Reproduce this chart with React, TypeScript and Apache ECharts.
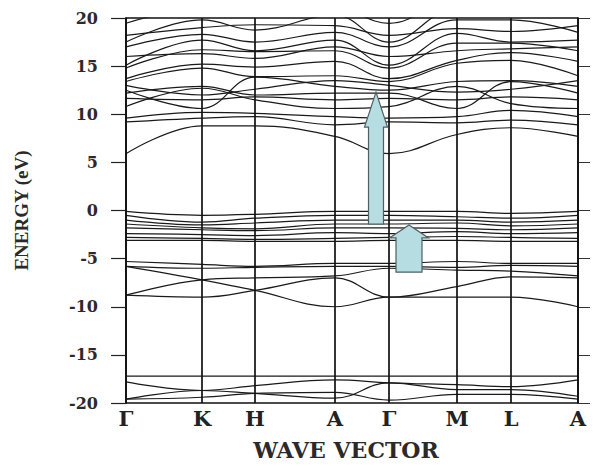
import React, { useEffect, useRef } from "react";
import * as echarts from "echarts";

// High-symmetry points along the wave-vector path (path distance, arbitrary units)
const kPointNames = ["Γ", "K", "H", "A", "Γ", "M", "L", "A"];
const kPointPos = [0, 76, 129, 209, 263, 331, 385, 452];

// Energies (eV) of each band at the high-symmetry points above
const conductionBands: number[][] = [
  [5.9, 8.8, 8.8, 7.7, 5.9, 7.9, 8.6, 7.7],
  [9.2, 9.6, 9.75, 8.9, 9.2, 9.1, 9.4, 8.9],
  [9.6, 10.2, 10.1, 9.75, 9.6, 9.75, 10.4, 9.75],
  [10.8, 12.7, 11.5, 10.6, 10.8, 12.9, 11.1, 10.6],
  [11.65, 11.5, 11.8, 11.5, 11.65, 11.5, 11.8, 11.5],
  [12.2, 12.9, 12.0, 12.2, 12.2, 10.6, 13.4, 12.2],
  [12.5, 10.6, 13.85, 12.9, 12.5, 13.4, 13.5, 12.9],
  [13.0, 12.0, 12.6, 13.5, 13.0, 12.3, 12.6, 13.5],
  [13.4, 14.8, 13.9, 14.0, 13.4, 15.3, 15.6, 14.0],
  [13.7, 15.2, 14.9, 15.5, 13.7, 15.6, 16.4, 15.5],
  [14.8, 16.7, 16.5, 16.6, 14.8, 17.4, 17.4, 16.6],
  [15.1, 17.7, 16.6, 17.7, 15.1, 18.4, 17.5, 17.7],
  [16.0, 16.3, 15.8, 17.0, 16.0, 16.6, 16.8, 17.0],
  [17.0, 18.3, 17.5, 18.5, 17.0, 19.8, 19.8, 18.5],
  [17.5, 19.8, 18.75, 20.3, 17.5, 21, 21, 20.3],
  [18.2, 19.0, 19.3, 19.2, 18.2, 18.9, 18.6, 19.2],
  [19.45, 21, 20.5, 21, 19.45, 22, 22, 21],
];

const upperValenceBands: number[][] = [
  [-0.1, -0.5, -0.4, -0.1, -0.1, -0.1, -0.3, -0.1],
  [-0.5, -1.2, -0.8, -0.5, -0.5, -0.65, -0.8, -0.5],
  [-1.0, -1.5, -1.3, -1.0, -1.0, -1.0, -1.2, -1.0],
  [-1.4, -1.8, -1.9, -1.4, -1.4, -1.3, -1.6, -1.4],
  [-1.8, -2.0, -2.1, -1.8, -1.8, -1.85, -2.0, -1.8],
  [-2.4, -2.5, -2.6, -2.3, -2.4, -2.2, -2.4, -2.3],
  [-2.8, -2.9, -3.0, -2.9, -2.8, -2.7, -2.8, -2.9],
  [-3.1, -3.1, -3.2, -3.2, -3.1, -3.1, -3.2, -3.2],
];

const lowerValenceBands: number[][] = [
  [-5.3, -5.6, -5.8, -5.5, -5.5, -5.3, -5.5, -5.5],
  [-5.8, -6.0, -5.9, -5.8, -5.8, -5.9, -5.7, -5.8],
  [-5.8, -7.2, -8.3, -10.0, -9.0, -9.0, -9.0, -10.0],
  [-8.8, -9.0, -8.3, -7.0, -9.0, -7.9, -6.9, -7.0],
  [-8.8, -7.2, -7.0, -6.8, -6.0, -6.2, -6.3, -6.8],
];

const deepBands: number[][] = [
  [-17.2, -17.2, -17.2, -17.2, -17.2, -17.2, -17.2, -17.2],
  [-17.8, -18.7, -18.2, -17.6, -17.9, -18.1, -18.3, -17.6],
  [-19.6, -18.7, -19.0, -19.5, -17.9, -18.6, -18.6, -19.3],
  [-19.6, -19.4, -19.0, -18.9, -19.7, -19.1, -19.1, -19.6],
];

const energyMin = -20;
const energyMax = 20;
const energyStep = 5;

// Transition arrows: [k position, start energy, tip energy]
const arrowTransitions = [
  [250, -1.4, 12.3],
  [283, -6.4, -1.5],
];

const arrowShapes = [
  { shaft: 15, head: 23, headLen: 35 },
  { shaft: 26, head: 39, headLen: 13 },
];

const SERIF = "'DejaVu Serif', 'Liberation Serif', serif";

export default function App() {
  const ref = useRef<HTMLDivElement>(null);

  useEffect(() => {
    document.body.style.margin = "0";
    if (!ref.current) return;
    const chart = echarts.init(ref.current, undefined, { renderer: "svg" });

    const allBands = [
      ...conductionBands,
      ...upperValenceBands,
      ...lowerValenceBands,
      ...deepBands,
    ];

    const series: any[] = allBands.map((band) => ({
      type: "line",
      data: band.map((e, i) => [kPointPos[i], e]),
      showSymbol: false,
      smooth: 0.4,
      silent: true,
      clip: true,
      lineStyle: { color: "#1a1a1a", width: 1.2 },
      z: 2,
    }));

    series.push({
      type: "line",
      data: [],
      silent: true,
      markLine: {
        silent: true,
        symbol: "none",
        animation: false,
        lineStyle: { color: "#111", width: 1.7, type: "solid" },
        label: {
          show: true,
          position: "start",
          distance: 5,
          formatter: (p: any) => p.name,
          fontFamily: SERIF,
          fontWeight: "bold",
          fontSize: 21,
          color: "#222",
        },
        data: kPointPos.map((k, i) => ({ xAxis: k, name: kPointNames[i] })),
      },
      z: 3,
    });

    chart.setOption({
      animation: false,
      backgroundColor: "#ffffff",
      grid: { left: 126, right: 19, top: 18, bottom: 63, outerBoundsMode: "none" },
      xAxis: [
        {
          type: "value",
          min: kPointPos[0],
          max: kPointPos[kPointPos.length - 1],
          position: "bottom",
          axisLine: { show: true, onZero: false, lineStyle: { color: "#111", width: 1.5 } },
          axisTick: { show: false },
          axisLabel: { show: false },
          splitLine: { show: false },
          name: "WAVE VECTOR",
          nameLocation: "middle",
          nameGap: 36,
          nameTextStyle: {
            fontFamily: SERIF,
            fontWeight: "bold",
            fontSize: 22,
            color: "#2a2a2a",
            padding: [0, 12, 0, 0],
          },
        },
        {
          type: "value",
          min: kPointPos[0],
          max: kPointPos[kPointPos.length - 1],
          position: "top",
          axisLine: { show: true, onZero: false, lineStyle: { color: "#111", width: 1.5 } },
          axisTick: { show: false },
          axisLabel: { show: false },
          splitLine: { show: false },
        },
      ],
      yAxis: [
        {
          type: "value",
          min: energyMin,
          max: energyMax,
          interval: energyStep,
          position: "left",
          axisLine: { show: true, onZero: false, lineStyle: { color: "#111", width: 1.7 } },
          axisTick: { show: true, length: 15, lineStyle: { color: "#222", width: 1.2 } },
          axisLabel: {
            margin: 28,
            fontFamily: SERIF,
            fontWeight: "bold",
            fontSize: 16,
            color: "#2a2a2a",
            formatter: (v: number) => String(v),
          },
          splitLine: { show: false },
          name: "ENERGY (eV)",
          nameLocation: "middle",
          nameGap: 95,
          nameRotate: 90,
          nameTextStyle: {
            fontFamily: "'Liberation Serif', serif",
            fontWeight: "bold",
            fontSize: 19,
            color: "#2a2a2a",
          },
        },
        {
          type: "value",
          min: energyMin,
          max: energyMax,
          interval: energyStep,
          position: "right",
          axisLine: { show: true, onZero: false, lineStyle: { color: "#111", width: 1.7 } },
          axisTick: { show: true, length: 12, lineStyle: { color: "#333", width: 1 } },
          axisLabel: { show: false },
          splitLine: { show: false },
        },
      ],
      series,
    });

    const graphics = arrowTransitions.map((a, i) => {
      const [k, e0, e1] = a;
      const s = arrowShapes[i];
      const base = chart.convertToPixel({ gridIndex: 0 }, [k, e0]) as number[];
      const tip = chart.convertToPixel({ gridIndex: 0 }, [k, e1]) as number[];
      const cx = base[0];
      const hb = tip[1] + s.headLen;
      return {
        type: "polygon",
        z: 10,
        shape: {
          points: [
            [cx - s.shaft / 2, base[1]],
            [cx - s.shaft / 2, hb],
            [cx - s.head / 2, hb],
            [cx, tip[1]],
            [cx + s.head / 2, hb],
            [cx + s.shaft / 2, hb],
            [cx + s.shaft / 2, base[1]],
          ],
        },
        style: { fill: "#b5dde2", stroke: "#4f5f60", lineWidth: 1.2 },
      };
    });
    chart.setOption({ graphic: graphics });

    return () => chart.dispose();
  }, []);

  return <div ref={ref} style={{ width: 597, height: 466 }} />;
}
